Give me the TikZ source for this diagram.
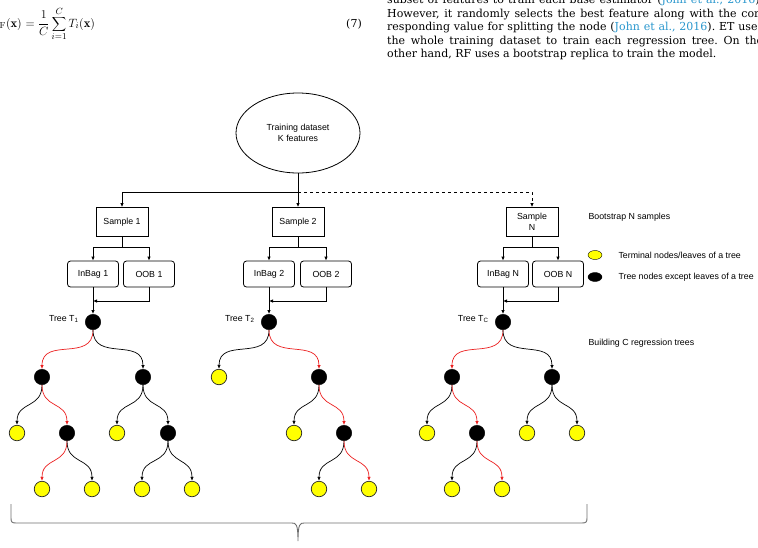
\documentclass[tikz,border=0pt]{standalone}
\usepackage{fontspec}
\setsansfont{Liberation Sans}
\newfontfamily\pagefont{DejaVu Serif}
\usetikzlibrary{arrows.meta, shapes.geometric}

\definecolor{citeblue}{RGB}{40,150,205}
\definecolor{leafyellow}{RGB}{255,255,0}
\definecolor{bracegray}{RGB}{110,110,110}
\definecolor{splitred}{RGB}{235,30,30}
\frenchspacing

\begin{document}
\begin{tikzpicture}[
x=1pt, y=1pt,
font=\sffamily\fontsize{8.8}{10.5}\selectfont,
>={Latex[length=4pt,width=3.5pt]},
samplebox/.style={
rectangle,
draw,
line width=0.8pt,
minimum width=52pt,
minimum height=29pt,
inner sep=1pt,
align=center,
},
bagbox/.style={
rectangle,
rounded corners=3pt,
draw,
line width=0.8pt,
minimum width=51pt,
minimum height=26pt,
inner sep=1pt,
},
innernode/.style={circle, draw, fill=black, minimum size=15.5pt, inner sep=0pt},
leafnode/.style={circle, draw=black!85, fill=leafyellow, line width=0.7pt, minimum size=15.5pt, inner sep=0pt},
link/.style={->, line width=0.7pt, out=-90, in=90, looseness=1.3},
redlink/.style={link, draw=splitred},
feed/.style={->, line width=0.8pt},
pageline/.style={anchor=base west, inner sep=0pt, font=\pagefont\fontsize{11}{13}\selectfont},
]
\useasboundingbox (0,0) rectangle (758,-547);

% page text above the figure
\node[anchor=base east, inner sep=0pt, font=\rmfamily\fontsize{12.5}{14}\selectfont] (eqlhs) at (22,-27)
{$\hat{y}_{\mathrm{RF}}(\mathbf{x})$};
\node[anchor=base west, inner sep=0pt, font=\rmfamily\fontsize{12.5}{14}\selectfont] (eqrhs) at (eqlhs.base east)
{$\displaystyle{}=\frac{1}{C}\sum_{i=1}^{C}T_i(\mathbf{x})$};
\node[anchor=base east, inner sep=0pt, font=\pagefont\fontsize{11}{13}\selectfont] (eqnum) at (362,-27) {(7)};

\node[pageline] (ln0) at (387,-3.5)
{\makebox[376pt][s]{subset of features to train each base estimator (\textcolor{citeblue}{John et al., 2016}).}};
\node[pageline] (ln1) at (387,-17.5)
{\makebox[376pt][s]{However, it randomly selects the best feature along with the cor-}};
\node[pageline] (ln2) at (387,-30.8)
{\makebox[376pt][s]{responding value for splitting the node (\textcolor{citeblue}{John et al., 2016}). ET uses}};
\node[pageline] (ln3) at (387,-44.1)
{\makebox[376pt][s]{the whole training dataset to train each regression tree. On the}};
\node[pageline] (ln4) at (387,-57.4)
{other hand, RF uses a bootstrap replica to train the model.};

% data set and samples
\node[ellipse, draw, line width=0.8pt, minimum width=124pt, minimum height=80pt, inner sep=0pt, align=center]
at (298,-133) (data) {Training dataset\\K features};

\node[samplebox] at (122,-222) (s1) {Sample 1};
\node[samplebox] at (298,-222) (s2) {Sample 2};
\node[samplebox] at (532,-222) (sn) {Sample\\N};

\draw[line width=0.8pt] (data.south) -- (298,-192) coordinate(split);
\draw[feed] (split) -| (s1.north);
\draw[feed] (split) -- (s2.north);
\draw[feed, dashed] (split) -| (sn.north);

% in-bag and out-of-bag sets
\node[bagbox] at (93,-274) (in1) {InBag 1};
\node[bagbox] at (149,-274) (oob1) {OOB 1};
\node[bagbox] at (269,-274) (in2) {InBag 2};
\node[bagbox] at (326,-274) (oob2) {OOB 2};
\node[bagbox] at (503,-274) (inn) {InBag N};
\node[bagbox] at (558,-274) (oobn) {OOB N};

% tree roots
\node[innernode] at (93,-322) (ta) {};
\node[innernode] at (269,-322) (tb) {};
\node[innernode] at (503,-322) (tc) {};

\foreach \s/\i/\o/\r in {s1/in1/oob1/ta, s2/in2/oob2/tb, sn/inn/oobn/tc} {
\draw[line width=0.8pt] (\s.south) -- (\s.south |- 0,-247) coordinate(f\s);
\draw[feed] (f\s) -| (\i.north);
\draw[feed] (f\s) -| (\o.north);
\draw[feed] (\i.south) -- (\r.north);
\draw[feed] (\o.south) |- (\i.south |- 0,-301);
}

\node[anchor=east] at ([xshift=-3pt,yshift=3pt]ta.west) (lbla) {Tree T\textsubscript{1}};
\node[anchor=east] at ([xshift=-3pt,yshift=3pt]tb.west) (lblb) {Tree T\textsubscript{2}};
\node[anchor=east] at ([xshift=-3pt,yshift=3pt]tc.west) (lblc) {Tree T\textsubscript{C}};

% tree T1
\node[innernode] at (42,-377) (ta1) {};
\node[innernode] at (143,-377) (ta2) {};
\node[leafnode] at (17,-433) (ta11) {};
\node[innernode] at (67,-433) (ta12) {};
\node[leafnode] at (117,-433) (ta21) {};
\node[innernode] at (168,-433) (ta22) {};
\node[leafnode] at (42,-489) (ta121) {};
\node[leafnode] at (92,-489) (ta122) {};
\node[leafnode] at (142,-489) (ta221) {};
\node[leafnode] at (192,-489) (ta222) {};

\draw[redlink] (ta.south) to (ta1.north);
\draw[link] (ta.south) to (ta2.north);
\draw[link] (ta1.south) to (ta11.north);
\draw[redlink] (ta1.south) to (ta12.north);
\draw[link] (ta2.south) to (ta21.north);
\draw[link] (ta2.south) to (ta22.north);
\draw[redlink] (ta12.south) to (ta121.north);
\draw[link] (ta12.south) to (ta122.north);
\draw[link] (ta22.south) to (ta221.north);
\draw[link] (ta22.south) to (ta222.north);

% tree T2
\node[leafnode] at (219,-377) (tb1) {};
\node[innernode] at (319,-377) (tb2) {};
\node[leafnode] at (294,-433) (tb21) {};
\node[innernode] at (344,-433) (tb22) {};
\node[leafnode] at (319,-489) (tb221) {};
\node[leafnode] at (369,-489) (tb222) {};

\draw[link] (tb.south) to (tb1.north);
\draw[redlink] (tb.south) to (tb2.north);
\draw[link] (tb2.south) to (tb21.north);
\draw[redlink] (tb2.south) to (tb22.north);
\draw[link] (tb22.south) to (tb221.north);
\draw[redlink] (tb22.south) to (tb222.north);

% tree TC
\node[innernode] at (452,-377) (tc1) {};
\node[innernode] at (552,-377) (tc2) {};
\node[leafnode] at (427,-433) (tc11) {};
\node[innernode] at (477,-433) (tc12) {};
\node[leafnode] at (527,-433) (tc21) {};
\node[leafnode] at (577,-433) (tc22) {};
\node[leafnode] at (452,-489) (tc121) {};
\node[leafnode] at (502,-489) (tc122) {};

\draw[redlink] (tc.south) to (tc1.north);
\draw[link] (tc.south) to (tc2.north);
\draw[link] (tc1.south) to (tc11.north);
\draw[redlink] (tc1.south) to (tc12.north);
\draw[link] (tc2.south) to (tc21.north);
\draw[link] (tc2.south) to (tc22.north);
\draw[link] (tc12.south) to (tc121.north);
\draw[redlink] (tc12.south) to (tc122.north);

% key and side notes
\node[anchor=west] at (585,-217) (notesample) {Bootstrap N samples};
\node[ellipse, draw, fill=leafyellow, minimum width=14pt, minimum height=9pt, inner sep=0pt] at (595,-255) (keyleaf) {};
\node[ellipse, draw, fill=black, minimum width=14pt, minimum height=9pt, inner sep=0pt] at (595,-277) (keyinner) {};
\node[anchor=west] at (615,-255) (keyleaftxt) {Terminal nodes/leaves of a tree};
\node[anchor=west] at (615,-277) (keyinnertxt) {Tree nodes except leaves of a tree};
\node[anchor=west] at (585,-343) (notetree) {Building C regression trees};

% brace under the trees
\draw[bracegray, line width=0.9pt]
(11,-504) -- (11,-518) .. controls (11,-522) and (12,-523) .. (16,-523) -- (292,-523)
.. controls (296,-523) and (298,-524) .. (298,-541)
(587,-504) -- (587,-518) .. controls (587,-522) and (586,-523) .. (582,-523) -- (304,-523)
.. controls (300,-523) and (298,-524) .. (298,-541)
;

\end{tikzpicture}
\end{document}
